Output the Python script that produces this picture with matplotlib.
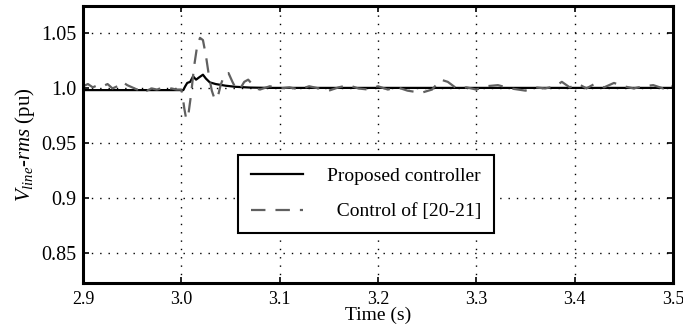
import numpy as np
import matplotlib.pyplot as plt

plt.rcParams['font.family'] = 'serif'
plt.rcParams['font.serif'] = ['Liberation Serif']
plt.rcParams['mathtext.fontset'] = 'custom'
plt.rcParams['mathtext.rm'] = 'Liberation Serif'
plt.rcParams['mathtext.it'] = 'Liberation Serif:italic'

# proposed controller response
t_prop = [2.9, 3.0, 3.002, 3.004, 3.006, 3.009, 3.012, 3.015, 3.018, 3.022,
          3.025, 3.029, 3.035, 3.045, 3.055, 3.07, 3.09, 3.5]
v_prop = [0.9985, 0.9985, 0.9985, 1.002, 1.005, 1.006, 1.011, 1.008, 1.010, 1.0125,
          1.009, 1.0055, 1.004, 1.0025, 1.0015, 1.0008, 1.0005, 1.0005]

# reference control [20-21]
t_ref = [2.900, 2.905, 2.910, 2.915, 2.920, 2.925, 2.930, 2.935, 2.940, 2.945,
         2.950, 2.955, 2.960, 2.965, 2.970, 2.975, 2.980, 2.985, 2.990, 2.995,
         3.000, 3.001, 3.003, 3.005, 3.007, 3.010, 3.013, 3.016, 3.019, 3.022,
         3.025, 3.028, 3.031, 3.034, 3.037, 3.040, 3.044, 3.048, 3.052, 3.056,
         3.060, 3.064, 3.068, 3.072, 3.076, 3.080, 3.090, 3.100, 3.110, 3.120,
         3.130, 3.140, 3.150, 3.160, 3.170, 3.180, 3.190, 3.200, 3.210, 3.220,
         3.230, 3.244, 3.255, 3.264, 3.271, 3.280, 3.290, 3.300, 3.310, 3.322,
         3.335, 3.350, 3.360, 3.370, 3.380, 3.387, 3.395, 3.404, 3.412, 3.420,
         3.430, 3.440, 3.450, 3.460, 3.470, 3.480, 3.490, 3.495, 3.500]
v_ref = [1.002, 1.004, 1.001, 1.003, 1.002, 1.004, 1.000, 1.002, 1.006, 1.003,
         1.001, 0.999, 1.001, 0.998, 1.000, 0.999, 1.000, 0.999, 1.000, 0.999,
         0.999, 0.995, 0.982, 0.972, 0.975, 0.995, 1.020, 1.038, 1.046, 1.044,
         1.030, 1.012, 0.998, 0.990, 0.992, 1.003, 1.013, 1.014, 1.006, 0.999,
         1.000, 1.006, 1.008, 1.004, 1.000, 0.999, 1.002, 1.000, 1.001, 0.999,
         1.002, 1.000, 0.998, 1.001, 1.003, 1.000, 0.999, 1.002, 0.999, 1.001,
         0.998, 0.996, 0.999, 1.008, 1.006, 1.000, 1.001, 0.999, 1.002, 1.003,
         1.000, 0.998, 1.001, 1.000, 1.002, 1.006, 1.001, 1.004, 1.000, 1.004,
         1.001, 1.005, 1.002, 1.000, 1.002, 1.003, 1.000, 1.004, 1.002]

x_ticks = [2.9, 3.0, 3.1, 3.2, 3.3, 3.4, 3.5]
x_labels = ['2.9', '3.0', '3.1', '3.2', '3.3', '3.4', '3.5']
y_ticks = [0.85, 0.9, 0.95, 1.0, 1.05]
y_labels = ['0.85', '0.9', '0.95', '1.0', '1.05']

fig = plt.figure(figsize=(6.83, 3.32), dpi=100)
ax = fig.add_axes([0.1215, 0.1476, 0.8638, 0.8343])

ax.plot(t_prop, v_prop, color='black', lw=1.6, label='Proposed controller')
ax.plot(t_ref, v_ref, color='#606060', lw=1.6, dashes=(6.5, 4.5),
        label='  Control of [20-21]')

ax.set_xlim(2.9, 3.5)
ax.set_ylim(0.823, 1.075)
ax.set_xticks(x_ticks)
ax.set_xticklabels(x_labels, fontsize=13)
ax.set_yticks(y_ticks)
ax.set_yticklabels(y_labels, fontsize=14.5)
ax.tick_params(direction='in', top=True, right=True, length=4, width=1.2)
ax.tick_params(axis='x', pad=6)
ax.tick_params(axis='y', pad=5)
ax.grid(True, color='black', linestyle=(0, (1, 5)), lw=1.0)
for s in ax.spines.values():
    s.set_linewidth(2.2)

ax.set_xlabel('Time (s)', fontsize=14, labelpad=-1)
ax.set_ylabel(r'$V_{line}$-$rms$ (pu)', fontsize=15, labelpad=3)

leg = ax.legend(loc='upper left', bbox_to_anchor=(0.263, 0.462), fontsize=14,
                fancybox=False, edgecolor='black', framealpha=1,
                borderaxespad=0, handlelength=2.7, handletextpad=1.2,
                labelspacing=0.9, borderpad=0.65)
leg.get_frame().set_linewidth(1.5)

fig.savefig('out.png', dpi=100)
